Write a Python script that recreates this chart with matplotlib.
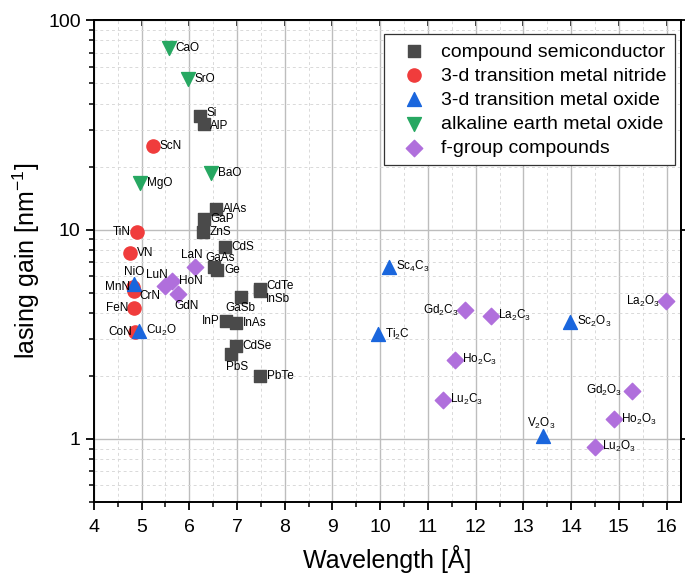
import matplotlib
matplotlib.use("Agg")
import matplotlib.pyplot as plt
from matplotlib.ticker import MultipleLocator, LogLocator, NullFormatter, FixedLocator, NullLocator

plt.rcParams['font.family'] = ['Liberation Sans', 'DejaVu Sans']
plt.rcParams['mathtext.default'] = 'regular'

# compound semiconductor
cs_names = ['Si', 'AlP', 'AlAs', 'GaP', 'ZnS', 'CdS', 'GaAs', 'Ge', 'CdTe', 'InSb',
            'GaSb', 'InP', 'InAs', 'CdSe', 'PbS', 'PbTe']
cs_x = [6.22, 6.30, 6.55, 6.30, 6.28, 6.74, 6.51, 6.58, 7.48, 7.48,
        7.08, 6.76, 6.97, 6.97, 6.88, 7.48]
cs_y = [34.9, 32.0, 12.6, 11.2, 9.7, 8.3, 6.6, 6.4, 5.2, 5.1,
        4.74, 3.65, 3.56, 2.78, 2.54, 2.0]

# 3-d transition metal nitride
tn_names = ['ScN', 'TiN', 'VN', 'MnN', 'CrN', 'FeN', 'CoN']
tn_x = [5.23, 4.91, 4.75, 4.82, 4.84, 4.84, 4.87]
tn_y = [25.2, 9.75, 7.74, 5.3, 5.1, 4.2, 3.26]

# 3-d transition metal oxide
to_names = ['NiO', 'Cu$_2$O', 'Sc$_4$C$_3$', 'Ti$_2$C', 'Sc$_2$O$_3$', 'V$_2$O$_3$']
to_x = [4.84, 4.94, 10.18, 9.96, 13.97, 13.41]
to_y = [5.51, 3.28, 6.64, 3.16, 3.63, 1.03]

# alkaline earth metal oxide
ae_names = ['CaO', 'SrO', 'BaO', 'MgO']
ae_x = [5.57, 5.97, 6.46, 4.96]
ae_y = [73.8, 52.4, 18.6, 16.6]

# f-group compounds
fg_names = ['LaN', 'LuN', 'HoN', 'GdN', 'Gd$_2$C$_3$', 'La$_2$C$_3$', 'Ho$_2$C$_3$',
            'Lu$_2$C$_3$', 'La$_2$O$_3$', 'Gd$_2$O$_3$', 'Ho$_2$O$_3$', 'Lu$_2$O$_3$']
fg_x = [6.12, 5.49, 5.64, 5.77, 11.78, 12.33, 11.56, 11.32, 15.99, 15.27, 14.90, 14.51]
fg_y = [6.66, 5.37, 5.67, 4.9, 4.13, 3.87, 2.39, 1.54, 4.54, 1.70, 1.245, 0.92]

# label placement: (dx, dy in points, ha)
R = (5, 0, 'left')
L = (-5, 0, 'right')
place = {
    'Si': (4.5, 2, 'left'), 'AlP': (4.5, -1.5, 'left'), 'GaAs': (5, 7, 'center'),
    'CdTe': (4.5, 2.5, 'left'), 'InSb': (4.5, -6, 'left'), 'GaSb': (0, -7.5, 'center'),
    'InP': (-4, 0, 'right'), 'PbS': (4.5, -9, 'center'),
    'TiN': (-4.5, 0, 'right'), 'MnN': (-2, 0, 'right'), 'FeN': (-4, 0, 'right'),
    'CoN': (-2.5, 0, 'right'), 'CrN': (4, -3.5, 'left'),
    'NiO': (0, 8.5, 'center'), 'V$_2$O$_3$': (-1.5, 9.5, 'center'),
    'LaN': (-2.5, 8.5, 'center'), 'LuN': (-6, 7.7, 'center'), 'HoN': (5, 0, 'left'),
    'GdN': (6, -8.4, 'center'),
    'Gd$_2$C$_3$': L, 'La$_2$O$_3$': L, 'Gd$_2$O$_3$': (-6.5, 0, 'right'),
}

fig, ax = plt.subplots(figsize=(6.85, 5.77), dpi=100)
fig.subplots_adjust(left=0.137, right=0.994, top=0.965, bottom=0.130)

ax.scatter(cs_x, cs_y, marker='s', s=70, color='#4a4a4a', label='compound semiconductor', zorder=3)
ax.scatter(tn_x, tn_y, marker='o', s=90, color='#f03c3c', label='3-d transition metal nitride', zorder=3)
ax.scatter(to_x, to_y, marker='^', s=100, color='#1a66dd', label='3-d transition metal oxide', zorder=4)
ax.scatter(ae_x, ae_y, marker='v', s=100, color='#27a862', label='alkaline earth metal oxide', zorder=3)
ax.scatter(fg_x, fg_y, marker='D', s=70, color='#b06fdc', label='f-group compounds', zorder=3)

for names, xs, ys in [(cs_names, cs_x, cs_y), (tn_names, tn_x, tn_y), (to_names, to_x, to_y),
                      (ae_names, ae_x, ae_y), (fg_names, fg_x, fg_y)]:
    for n, x, y in zip(names, xs, ys):
        dx, dy, ha = place.get(n, R)
        ax.annotate(n, (x, y), xytext=(dx, dy), textcoords='offset points',
                    ha=ha, va='center', fontsize=8.5, zorder=5)

ax.set_yscale('log')
ax.set_xlim(4, 16.3)
ax.set_ylim(0.5, 100)
ax.xaxis.set_major_locator(MultipleLocator(1))
ax.xaxis.set_minor_locator(MultipleLocator(0.5))
ax.yaxis.set_major_locator(FixedLocator([1, 10, 100]))
ax.yaxis.set_minor_locator(LogLocator(base=10, subs=range(2, 10)))
ax.yaxis.set_minor_formatter(NullFormatter())
ax.set_yticklabels(['1', '10', '100'])

ax.grid(True, which='major', color='#bdbdbd', linewidth=1.0)
ax.grid(True, which='minor', color='#d9d9d9', linestyle=(0, (3, 3)), linewidth=0.7)
ax.set_axisbelow(True)

ax.tick_params(which='major', length=6, width=1.3, labelsize=14)
ax.tick_params(axis='x', which='major', pad=6)
ax.tick_params(which='minor', length=3.5, width=1.1)
for sp in ax.spines.values():
    sp.set_linewidth(1.4)

# top ticks inward, right ticks outward (majors only)
top = ax.secondary_xaxis('top')
top.xaxis.set_major_locator(MultipleLocator(1))
top.tick_params(direction='in', length=4, width=1.2, labeltop=False)
top.spines['top'].set_linewidth(1.4)
right = ax.secondary_yaxis('right')
right.yaxis.set_major_locator(FixedLocator([1, 10, 100]))
right.yaxis.set_minor_locator(NullLocator())
right.tick_params(direction='out', length=4, width=1.3, labelright=False)
right.spines['right'].set_linewidth(1.4)

ax.set_xlabel('Wavelength [Å]', fontsize=18, labelpad=7)
ax.set_ylabel('lasing gain [nm$^{-1}$]', fontsize=18)

leg = ax.legend(loc='upper right', bbox_to_anchor=(0.99, 0.971), borderaxespad=0,
                fontsize=14, fancybox=False, edgecolor='#333333', framealpha=1,
                handlelength=2.1, handletextpad=0.35, borderpad=0.45, labelspacing=0.33)
leg.get_frame().set_linewidth(0.9)

fig.savefig('out.png', dpi=100)
